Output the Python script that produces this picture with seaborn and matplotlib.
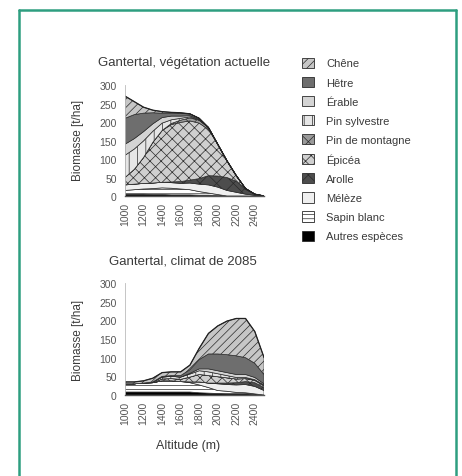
import numpy as np
import pandas as pd
import matplotlib
matplotlib.use("Agg")
import matplotlib.pyplot as plt
from matplotlib.patches import Patch
from matplotlib.lines import Line2D
import seaborn as sns

sns.set_style("white")
plt.rcParams["font.family"] = ["Liberation Sans", "DejaVu Sans"]
plt.rcParams["hatch.color"] = "#3a3a3a"
plt.rcParams["hatch.linewidth"] = 0.5

altitude = [1000, 1100, 1200, 1300, 1400, 1500, 1600, 1700,
            1800, 1900, 2000, 2100, 2200, 2300, 2400, 2500]
tick_altitudes = [1000, 1200, 1400, 1600, 1800, 2000, 2200, 2400]
y_ticks = [0, 50, 100, 150, 200, 250, 300]

species = ["Chêne", "Hêtre", "Érable", "Pin sylvestre", "Pin de montagne",
           "Épicéa", "Arolle", "Mélèze", "Sapin blanc", "Autres espèces"]

# Biomass (t/ha) per species, present vegetation
cur_chene = [60, 35, 16, 7, 4, 2, 2, 0, 0, 0, 0, 0, 0, 0, 0, 0]
cur_hetre = [70, 65, 50, 30, 12, 8, 7, 5, 3, 0, 0, 0, 0, 0, 0, 0]
cur_erable = [30, 28, 25, 20, 15, 10, 6, 3, 2, 0, 0, 0, 0, 0, 0, 0]
cur_pin_sylv = [60, 55, 45, 30, 20, 10, 5, 3, 0, 0, 0, 0, 0, 0, 0, 0]
cur_pin_mont = [0, 0, 0, 0, 0, 3, 6, 8, 8, 5, 0, 0, 0, 0, 0, 0]
cur_epicea = [20, 40, 70, 110, 140, 155, 160, 160, 150, 125, 86, 45, 15, 2, 0, 0]
cur_arolle = [0, 0, 0, 0, 0, 2, 5, 8, 15, 25, 30, 35, 30, 13, 3, 0]
cur_meleze = [15, 15, 15, 15, 15, 15, 15, 18, 20, 22, 20, 15, 10, 5, 2, 0]
cur_sapin = [10, 12, 14, 16, 18, 18, 16, 14, 10, 6, 3, 0, 0, 0, 0, 0]
cur_autres = [5, 5, 5, 4, 4, 3, 3, 3, 2, 2, 1, 0, 0, 0, 0, 0]

# Biomass (t/ha) per species, 2085 climate
fut_chene = [5, 5, 6, 10, 10, 10, 10, 12, 30, 55, 75, 90, 100, 105, 85, 45]
fut_hetre = [0, 0, 0, 0, 2, 2, 4, 10, 25, 40, 45, 48, 50, 45, 38, 25]
fut_erable = [0, 0, 0, 0, 0, 0, 0, 2, 5, 8, 8, 8, 8, 8, 6, 3]
fut_pin_sylv = [0, 0, 0, 2, 5, 6, 6, 8, 10, 10, 8, 6, 4, 3, 0, 0]
fut_pin_mont = [0, 0, 0, 0, 0, 0, 0, 0, 0, 0, 0, 0, 0, 0, 2, 3]
fut_epicea = [0, 0, 0, 0, 5, 6, 6, 13, 20, 20, 17, 14, 10, 8, 6, 4]
fut_arolle = [0, 0, 0, 0, 0, 0, 0, 0, 0, 0, 2, 4, 6, 8, 10, 8]
fut_meleze = [0, 0, 0, 0, 0, 0, 0, 2, 8, 12, 18, 18, 20, 22, 20, 12]
fut_sapin = [22, 22, 24, 25, 30, 30, 28, 25, 21, 15, 8, 7, 4, 3, 1, 0]
fut_autres = [8, 8, 8, 8, 8, 8, 8, 8, 6, 5, 4, 3, 3, 3, 2, 0]

current = [cur_chene, cur_hetre, cur_erable, cur_pin_sylv, cur_pin_mont,
           cur_epicea, cur_arolle, cur_meleze, cur_sapin, cur_autres]
future = [fut_chene, fut_hetre, fut_erable, fut_pin_sylv, fut_pin_mont,
          fut_epicea, fut_arolle, fut_meleze, fut_sapin, fut_autres]

# grey fills and hatches, one per species
styles = {
    "Chêne": ("#c6c6c6", "////"),
    "Hêtre": ("#6e6e6e", ""),
    "Érable": ("#d4d4d4", ""),
    "Pin sylvestre": ("#e6e6e6", "||"),
    "Pin de montagne": ("#9a9a9a", "xx"),
    "Épicéa": ("#cfcfcf", "xxx"),
    "Arolle": ("#4d4d4d", "xx"),
    "Mélèze": ("#efefef", ""),
    "Sapin blanc": ("#ffffff", "----"),
    "Autres espèces": ("#000000", ""),
}

text_color = "#3a3a3a"

fig = plt.figure(figsize=(4.62, 4.77), dpi=100)
ax_top = fig.add_axes([0.2706, 0.587, 0.301, 0.2327])
ax_bot = fig.add_axes([0.2706, 0.1698, 0.301, 0.2348])


def draw_stack(ax, values):
    df = pd.DataFrame({name: v for name, v in zip(species, values)},
                      index=altitude)
    base = np.zeros(len(altitude))
    # stack from the bottom: last legend entry lies lowest
    for name in reversed(species):
        face, hatch = styles[name]
        top = base + df[name].to_numpy()
        ax.fill_between(df.index, base, top, facecolor=face, hatch=hatch,
                        edgecolor="#2a2a2a", linewidth=0.5)
        base = top
    total = pd.DataFrame({"altitude": altitude, "total": base})
    sns.lineplot(data=total, x="altitude", y="total", ax=ax,
                 color="#222222", linewidth=0.9)
    ax.set_xlim(1000, 2500)
    ax.set_ylim(0, 300)
    ax.set_xticks(tick_altitudes)
    ax.set_xticklabels([str(t) for t in tick_altitudes], rotation=90,
                       fontsize=7.5)
    ax.set_yticks(y_ticks)
    ax.set_yticklabels([str(t) for t in y_ticks], fontsize=7.5)
    ax.set_xlabel("")
    ax.set_ylabel("")
    ax.tick_params(axis="both", length=2, width=0.5, pad=2, colors="#999999",
                   labelcolor="#555555")
    ax.tick_params(axis="y", pad=4)
    sns.despine(ax=ax, top=True, right=True)
    ax.spines["left"].set_color("#bbbbbb")
    ax.spines["left"].set_linewidth(0.6)
    ax.spines["bottom"].set_color("#555555")
    ax.spines["bottom"].set_linewidth(1.0)


draw_stack(ax_top, current)
draw_stack(ax_bot, future)

fig.text(78 / 462, 1 - 140 / 477, "Biomasse [t/ha]", rotation=90,
         ha="center", va="center", fontsize=8.5, color=text_color)
fig.text(78 / 462, 1 - 340 / 477, "Biomasse [t/ha]", rotation=90,
         ha="center", va="center", fontsize=8.5, color=text_color)
fig.text(184 / 462, 1 - 63 / 477, "Gantertal, végétation actuelle",
         ha="center", va="center", fontsize=9.5, color=text_color)
fig.text(183 / 462, 1 - 262 / 477, "Gantertal, climat de 2085",
         ha="center", va="center", fontsize=9.5, color=text_color)
fig.text(188 / 462, 1 - 446 / 477, "Altitude (m)",
         ha="center", va="center", fontsize=9, color=text_color)

handles = [Patch(facecolor=styles[n][0], hatch=styles[n][1],
                 edgecolor="#2a2a2a", linewidth=0.6) for n in species]
leg = fig.legend(handles, species, loc="upper left",
                 bbox_to_anchor=(302 / 462, 1 - 58.5 / 477), frameon=False,
                 fontsize=8, handlelength=1.05, handleheight=1.05,
                 handletextpad=1.1, labelspacing=0.74, borderaxespad=0,
                 borderpad=0)
for t in leg.get_texts():
    t.set_color(text_color)

# teal frame around the panel, open at the bottom
frame_color = "#2e9e80"
x0, x1, ytop = 18.5 / 462, 455.5 / 462, 1 - 10.5 / 477
for xs, ys in [([x0, x0], [0, ytop]), ([x1, x1], [0, ytop]),
               ([x0, x1], [ytop, ytop])]:
    fig.add_artist(Line2D(xs, ys, transform=fig.transFigure,
                          color=frame_color, linewidth=1.8))

fig.savefig("out.png", dpi=100, facecolor="white")
